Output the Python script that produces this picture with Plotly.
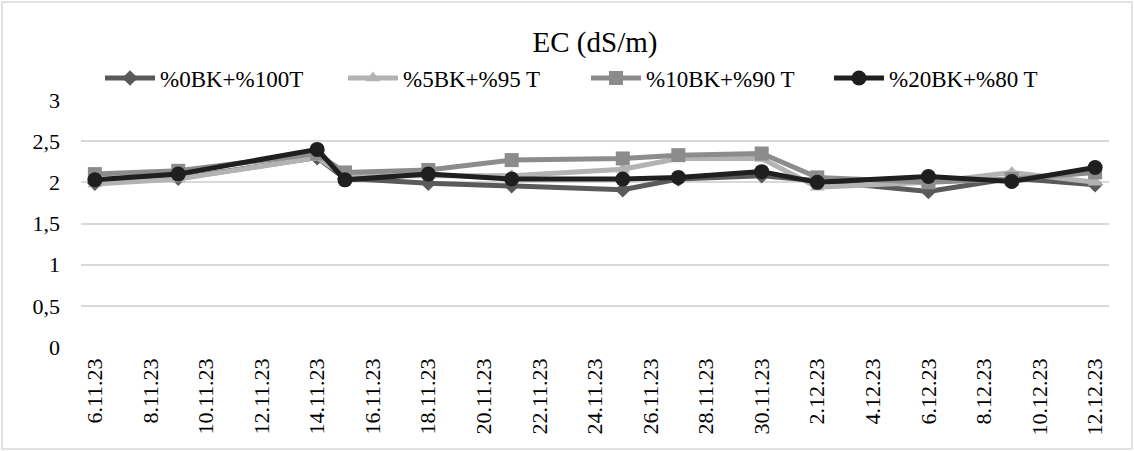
import plotly.graph_objects as go

dates = ["2023-11-06", "2023-11-09", "2023-11-14", "2023-11-15", "2023-11-18",
         "2023-11-21", "2023-11-25", "2023-11-27", "2023-11-30", "2023-12-02",
         "2023-12-06", "2023-12-09", "2023-12-12"]

s0 = [1.99, 2.05, 2.30, 2.05, 1.99, 1.96, 1.91, 2.04, 2.08, 2.02, 1.89, 2.05, 1.97]
s5 = [1.98, 2.04, 2.30, 2.08, 2.08, 2.08, 2.16, 2.29, 2.29, 1.94, 2.00, 2.12, 2.00]
s10 = [2.10, 2.14, 2.35, 2.12, 2.15, 2.27, 2.29, 2.33, 2.35, 2.06, 2.00, 2.04, 2.12]
s20 = [2.03, 2.10, 2.40, 2.03, 2.10, 2.04, 2.04, 2.06, 2.13, 2.00, 2.07, 2.01, 2.18]

names = ["%0BK+%100T", "%5BK+%95 T", "%10BK+%90 T", "%20BK+%80 T"]
colors = ["#5a5a5a", "#b3b3b3", "#8c8c8c", "#1f1f1f"]
symbols = ["diamond", "triangle-up", "square", "circle"]
sizes = [12, 13, 14, 15]
series = [s0, s5, s10, s20]

FONT = "'Liberation Serif', 'Times New Roman', Times, 'DejaVu Serif', serif"

fig = go.Figure()
for n, c, sym, sz, s in zip(names, colors, symbols, sizes, series):
    fig.add_trace(go.Scatter(
        x=dates, y=s, name=n, mode="lines+markers",
        line=dict(color=c, width=5),
        marker=dict(symbol=sym, size=sz, color=c),
    ))

L, R, T, B = 81, 25, 100, 104
W, H = 1134, 451
pw = W - L - R
ph = H - T - B

fig.update_layout(
    width=W, height=H,
    margin=dict(l=L, r=R, t=T, b=B),
    paper_bgcolor="white", plot_bgcolor="white",
    separators=",.",
    font=dict(family=FONT, size=22, color="#000000"),
    title=dict(text="EC (dS/m)", xref="paper", x=0.5, xanchor="center", y=1 - 42 / H, yanchor="middle",
               font=dict(family=FONT, size=29, color="#000000")),
    legend=dict(orientation="h", x=(100 - L) / pw, xanchor="left", y=1 + 22 / ph, yanchor="middle",
                font=dict(family=FONT, size=23, color="#000000"), entrywidth=178, itemwidth=50,
                bgcolor="rgba(0,0,0,0)"),
    showlegend=True,
    xaxis=dict(type="date", range=["2023-11-05 12:00", "2023-12-12 12:00"],
               tick0="2023-11-06", dtick=2 * 86400000, tickformat="%-d.%m.%y",
               tickangle=-90, showgrid=False, zeroline=False, showline=False,
               ticks="", ticklabelstandoff=6,
               tickfont=dict(family=FONT, size=22, color="#000000")),
    yaxis=dict(range=[0, 3], dtick=0.5, showgrid=True, gridcolor="#d9d9d9", gridwidth=1.5,
               zeroline=False, showline=False, ticks="", ticklabelstandoff=20,
               tickfont=dict(family=FONT, size=22, color="#000000")),
    shapes=[dict(type="rect", xref="paper", yref="paper",
                 x0=(2 - L) / pw, x1=(W - 2 - L) / pw,
                 y0=-(B - 2) / ph, y1=1 + (T - 2) / ph,
                 line=dict(color="#d9d9d9", width=1.5), fillcolor="rgba(0,0,0,0)", layer="below")],
)

fig.write_html("out.html", config={"displayModeBar": False},
               post_script="document.body.style.margin='0';")
